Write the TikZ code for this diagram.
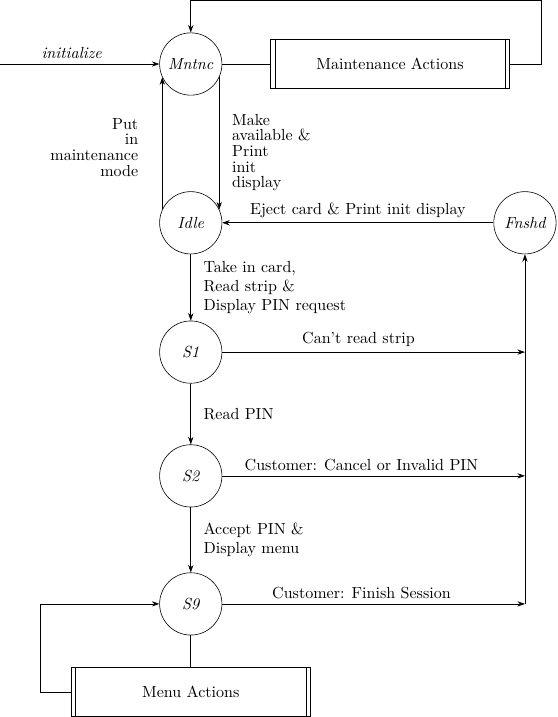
\documentclass[tikz,border=0pt]{standalone}
\usepackage{amsmath,amssymb}
\usepackage{tikz}
\usetikzlibrary{arrows.meta,calc,positioning}

\tikzset{
  every node/.style={font=\fontsize{10.7}{12.7}\selectfont},
  state/.style={draw,circle,minimum size=1.46cm,inner sep=0pt,font=\fontsize{10.7}{12.7}\selectfont\itshape},
  actions/.style={draw,rectangle,minimum width=5.6cm,minimum height=1.15cm,
    path picture={
      \draw ([xshift=0.1cm]path picture bounding box.north west) -- ([xshift=0.1cm]path picture bounding box.south west);
      \draw ([xshift=-0.1cm]path picture bounding box.north east) -- ([xshift=-0.1cm]path picture bounding box.south east);
    }},
  narrow/.style={font=\fontsize{10.7}{10.4}\selectfont},
  trans/.style={-{Stealth[length=5pt,width=3.5pt]}}
}

\begin{document}
\begin{tikzpicture}
\useasboundingbox (0,0) rectangle (13.07,-16.8);
\node[state] (mntnc) at (4.47,-1.5) {Mntnc};
\node[state] (idle) at (4.47,-5.22) {Idle};
\node[state] (s1) at (4.47,-8.25) {S1};
\node[state] (s2) at (4.47,-11.15) {S2};
\node[state] (s9) at (4.47,-14.15) {S9};
\node[state] (fnshd) at (12.30,-5.22) {Fnshd};
\node[actions] (maint) at (9.14,-1.5) {Maintenance Actions};
\node[actions] (menu) at (4.47,-16.21) {Menu Actions};
\coordinate (start) at (0,-1.5);
\coordinate (topright) at (12.68,0);
\coordinate (lft) at (0.94,-14.15);
\coordinate (join) at (12.30,-14.15);

\draw[trans] (start) -- (mntnc) node[pos=0.45,above] {\itshape initialize};
\draw (mntnc) -- (maint);
\draw[trans] (maint.east) -| (topright) -| (mntnc.north);
\draw[trans] (idle.155) -- (mntnc.205) node[pos=0.47,left=12.5pt,narrow,align=right] {Put\\in\\maintenance\\mode};
\draw[trans] (mntnc.335) -- (idle.25) node[pos=0.57,right=5pt,narrow,align=left] {Make\\available \&\\Print\\init\\display};
\draw[trans] (fnshd) -- (idle) node[pos=0.5,above] {Eject card \& Print init display};
\draw[trans] (idle) -- (s1) node[midway,right=5pt,align=left] {Take in card,\\Read strip \&\\Display PIN request};
\draw[trans] (s1) -- (s2) node[midway,right=5pt] {Read PIN};
\draw[trans] (s2) -- (s9) node[midway,right=5pt,align=left] {Accept PIN \&\\Display menu};
% exits to Fnshd
\draw[trans] (s1) -- (s1 -| join) node[pos=0.45,above] {Can't read strip};
\draw[trans] (s2) -- (s2 -| join) node[pos=0.46,above] {Customer: Cancel or Invalid PIN};
\draw[trans] (s9) -- (join) node[pos=0.46,above] {Customer: Finish Session};
\draw[trans] (join) -- (fnshd);
% menu loop
\draw (s9) -- (menu);
\draw[trans] (menu.west) -| (lft) -- (s9);
\end{tikzpicture}
\end{document}
